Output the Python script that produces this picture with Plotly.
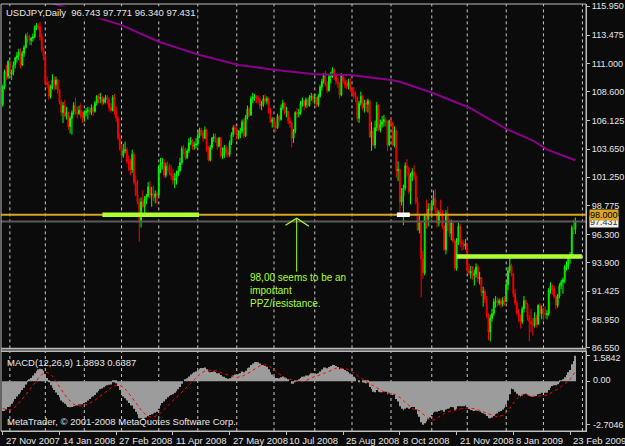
import plotly.graph_objects as go
import pandas as pd

# ---------------- data ----------------
header_text = "USDJPY,Daily  96.743 97.771 96.340 97.431"
macd_header = "MACD(12,26,9) 1.3893 0.6387"
copyright_text = "MetaTrader, \u00a9 2001-2008 MetaQuotes Software Corp."
comment_text = "98,00 seems to be an<br>important<br>PPZ/resistance."

holidays = ["2007-12-25", "2008-01-01", "2008-12-25", "2009-01-01"]
dates = [d for d in pd.bdate_range("2007-11-27", "2009-02-26")
         if d.strftime("%Y-%m-%d") not in holidays]

opens = [
 107.5,109.0,110.3,109.9,111.2,110.1,110.3,110.9,111.5,111.7,
 112.0,110.9,111.9,112.4,113.4,113.2,113.0,113.2,113.3,114.1,
 114.3,114.2,113.3,112.2,111.7,109.4,109.2,108.2,109.0,109.6,
 109.2,109.6,108.7,107.7,106.8,107.4,106.5,106.8,105.6,106.3,
 106.8,107.4,106.8,106.7,107.0,106.5,106.4,106.8,106.9,107.0,
 106.8,107.2,106.9,107.6,108.2,108.0,108.1,107.7,107.9,108.1,
 107.9,107.2,107.0,108.1,106.9,106.3,104.6,103.7,103.1,103.5,
 103.6,102.6,102.5,101.9,103.2,100.8,99.7,99.1,97.4,99.1,
 98.7,99.3,99.6,100.4,99.7,99.8,99.5,99.8,99.7,102.0,
 102.4,102.5,101.4,102.2,102.1,101.6,101.4,101.0,101.1,101.5,
 101.8,102.5,103.7,103.5,102.9,103.5,104.2,104.4,103.9,104.0,
 104.1,104.8,105.3,105.1,104.6,105.3,103.5,102.7,103.8,104.6,
 104.7,104.5,103.9,104.6,103.1,103.2,103.8,103.3,103.2,104.2,
 104.9,105.5,105.4,104.8,105.0,105.2,106.0,104.8,106.4,107.1,
 106.6,108.0,108.1,108.2,108.1,107.9,107.4,107.5,108.0,107.8,
 108.0,106.8,106.0,106.2,105.6,105.5,106.5,106.2,107.2,107.6,
 106.8,106.9,106.1,105.9,104.6,105.2,106.8,106.7,106.8,107.6,
 107.8,107.4,107.9,107.4,108.1,108.2,108.0,108.1,107.5,108.2,
 109.0,109.5,110.0,109.2,108.7,109.9,110.0,110.5,109.9,109.5,
 109.3,108.3,110.0,109.5,109.2,109.1,109.4,108.8,108.5,108.3,
 108.1,106.3,107.6,108.2,107.2,107.6,107.5,107.8,104.7,105.2,
 104.0,105.5,107.4,105.3,105.8,106.0,106.2,106.0,104.0,106.1,
 105.9,104.0,105.2,101.8,101.9,99.1,99.6,100.3,102.2,102.0,
 100.0,101.4,101.7,101.3,99.1,96.7,97.3,94.2,93.0,97.9,
 97.6,98.5,98.4,99.0,99.4,98.4,97.3,98.2,98.1,97.0,
 95.0,98.1,97.1,96.4,97.3,95.7,93.4,95.8,97.0,95.6,
 95.5,95.3,95.5,93.2,93.0,93.1,92.8,92.9,93.5,92.5,
 92.6,91.3,91.4,90.7,89.3,87.9,89.1,89.5,90.5,90.6,
 90.4,90.6,90.3,90.6,90.5,92.0,93.2,93.6,92.9,91.2,
 90.4,89.5,89.2,88.8,89.9,90.6,90.3,89.2,88.8,88.6,
 88.5,89.1,88.6,90.2,89.5,89.9,89.5,89.4,89.5,91.5,
 91.9,91.6,91.0,90.2,91.0,91.9,92.2,92.4,93.5,93.6,
 94.4,94.5,96.9,96.743]
highs = [
 109.2,110.5,110.9,111.3,111.3,110.5,111.2,111.6,112.0,112.3,
 112.3,112.1,112.6,113.6,113.7,113.5,113.3,113.6,114.3,114.5,
 114.5,114.6,113.6,112.4,111.8,109.9,109.5,109.2,110.1,109.9,
 109.9,109.7,108.8,107.9,107.7,107.9,107.3,106.9,106.5,107.0,
 107.7,108.1,107.3,107.4,107.6,106.9,107.0,107.2,107.3,107.3,
 107.5,107.4,107.8,108.3,108.4,108.5,108.2,108.1,108.3,108.3,
 108.1,107.6,108.3,108.4,107.3,106.5,105.0,104.0,104.1,104.3,
 103.8,103.1,102.8,103.6,103.4,101.4,101.0,99.4,99.5,100.1,
 99.6,99.8,100.8,100.9,100.4,100.5,100.1,100.0,102.3,102.9,
 102.9,102.8,102.5,102.6,102.4,102.3,101.9,101.6,101.8,102.2,
 102.9,103.9,104.0,103.8,103.7,104.6,104.7,104.5,104.3,104.6,
 105.1,105.5,105.5,105.3,105.6,105.4,103.9,104.0,104.7,105.0,
 105.0,104.6,104.7,104.7,103.8,104.0,104.0,103.6,104.4,105.1,
 105.7,105.8,105.6,105.3,105.5,106.2,106.3,106.6,107.4,107.3,
 108.2,108.5,108.4,108.3,108.3,108.1,107.8,108.3,108.4,108.2,
 108.1,107.2,106.4,106.4,106.0,106.7,106.6,107.5,107.9,107.7,
 107.3,106.9,106.4,106.0,105.4,106.9,107.2,107.1,107.8,108.1,
 107.9,108.1,108.0,108.3,108.5,108.4,108.4,108.1,108.4,109.2,
 109.7,110.2,110.4,109.5,110.1,110.3,110.7,110.6,110.1,109.8,
 109.4,110.2,110.1,109.8,109.6,109.7,109.8,108.9,109.0,108.6,
 108.2,107.8,108.6,108.3,107.9,107.9,108.0,107.9,106.0,105.5,
 106.1,107.7,107.5,106.2,106.5,106.6,106.4,106.1,106.2,106.4,
 106.0,105.6,105.3,102.6,102.0,100.3,100.6,102.5,102.8,102.1,
 101.6,102.0,102.3,101.6,99.5,97.9,97.4,94.9,98.1,99.3,
 99.0,99.0,99.3,100.1,100.2,98.6,98.4,99.3,98.4,97.1,
 98.4,98.7,97.6,97.6,97.5,95.9,96.0,97.3,97.2,95.9,
 95.8,95.9,95.6,93.8,93.6,93.6,93.3,93.8,93.7,93.1,
 92.6,91.8,91.6,91.0,89.5,89.4,89.9,90.8,91.0,90.9,
 90.8,90.8,90.9,91.0,92.2,93.5,94.6,93.8,93.0,91.6,
 90.6,89.9,89.4,90.1,91.0,90.7,90.4,89.4,89.9,89.1,
 89.6,89.4,90.3,90.4,90.2,90.0,90.1,89.8,91.7,92.2,
 92.0,91.9,91.1,91.2,92.1,92.4,92.6,93.7,94.0,94.5,
 94.8,97.1,97.6,97.771]
lows = [
 107.3,108.8,109.6,109.7,109.9,109.6,110.0,110.6,111.1,111.3,
 110.6,110.8,111.6,112.3,112.8,112.6,112.6,112.9,113.2,113.9,
 113.9,113.0,112.0,111.3,109.1,108.9,107.9,108.0,108.8,108.7,
 108.8,108.4,107.5,106.5,105.9,106.4,106.2,105.3,105.0,104.9,
 106.6,106.6,106.3,106.6,106.3,105.9,106.0,106.5,106.2,106.6,
 106.6,106.5,106.8,107.4,107.6,107.6,107.4,107.5,107.6,107.5,
 106.9,106.8,106.9,106.6,106.0,104.4,103.5,102.6,102.9,103.3,
 102.4,101.8,101.4,101.6,100.6,99.6,98.9,95.7,96.9,98.6,
 98.1,98.9,99.5,99.4,98.7,99.2,99.0,98.9,99.6,101.6,
 101.9,101.2,101.2,101.8,101.4,101.0,100.6,100.3,100.6,101.3,
 101.7,102.3,103.2,102.7,102.8,103.3,104.0,103.6,103.6,103.7,
 103.9,104.6,104.8,104.3,104.5,103.4,102.6,102.6,103.6,104.3,
 104.2,103.6,103.8,102.9,102.8,102.9,103.0,102.9,103.0,104.0,
 104.7,104.9,104.4,104.5,104.6,105.0,104.6,104.7,106.2,106.4,
 106.5,107.6,107.8,107.6,107.6,107.1,107.0,107.3,107.6,107.5,
 106.7,105.9,105.5,105.4,105.1,105.4,106.0,106.1,107.0,106.6,
 106.4,105.8,105.5,103.8,104.2,105.0,106.3,106.4,106.6,107.3,
 107.0,107.2,107.2,107.3,107.8,107.6,107.5,107.3,107.3,108.1,
 108.7,109.3,109.1,108.5,108.6,109.3,109.8,109.6,109.2,108.9,
 108.0,108.2,109.3,108.9,108.8,108.8,108.6,108.2,108.0,107.7,
 106.0,105.9,107.4,107.0,106.8,106.9,106.8,104.6,103.5,103.9,
 103.7,105.2,105.2,105.1,105.5,105.6,105.6,103.5,103.9,105.6,
 103.9,103.8,101.2,100.9,97.9,98.8,97.1,100.1,101.3,99.8,
 98.9,100.9,101.0,98.9,96.6,96.4,90.9,92.5,92.8,96.8,
 97.0,97.8,97.7,98.8,98.1,96.9,97.0,97.9,96.8,94.9,
 94.6,96.6,96.1,95.8,95.6,93.2,93.2,95.4,95.2,94.9,
 95.0,95.0,93.0,92.8,92.5,92.4,91.9,92.6,92.2,92.0,
 91.0,90.1,90.4,89.1,87.2,87.1,88.8,89.3,90.0,90.1,
 90.2,90.0,90.1,90.2,90.5,91.5,93.0,92.7,90.9,90.2,
 89.4,88.8,88.2,88.6,89.6,89.9,88.9,87.1,87.9,87.6,
 88.3,88.3,88.5,89.3,89.0,88.9,89.1,89.0,89.3,91.2,
 91.1,90.8,89.9,90.0,90.8,91.6,91.2,92.1,93.2,93.3,
 93.8,94.3,96.3,96.340]
closes = [
 109.0,110.3,109.9,111.2,110.1,110.3,110.9,111.5,111.7,112.0,
 110.9,111.9,112.4,113.4,113.2,113.0,113.2,113.3,114.1,114.3,
 114.2,113.3,112.2,111.7,109.4,109.2,108.2,109.0,109.6,109.2,
 109.6,108.7,107.7,106.8,107.4,106.5,106.8,105.6,106.3,106.8,
 107.4,106.8,106.7,107.0,106.5,106.4,106.8,106.9,107.0,106.8,
 107.2,106.9,107.6,108.2,108.0,108.1,107.7,107.9,108.1,107.9,
 107.2,107.0,108.1,106.9,106.3,104.6,103.7,103.1,103.5,103.6,
 102.6,102.5,101.9,103.2,100.8,99.7,99.1,97.4,99.1,98.7,
 99.3,99.6,100.4,99.7,99.8,99.5,99.8,99.7,102.0,102.4,
 102.5,101.4,102.2,102.1,101.6,101.4,101.0,101.1,101.5,101.8,
 102.5,103.7,103.5,102.9,103.5,104.2,104.4,103.9,104.0,104.1,
 104.8,105.3,105.1,104.6,105.3,103.5,102.7,103.8,104.6,104.7,
 104.5,103.9,104.6,103.1,103.2,103.8,103.3,103.2,104.2,104.9,
 105.5,105.4,104.8,105.0,105.2,106.0,104.8,106.4,107.1,106.6,
 108.0,108.1,108.2,108.1,107.9,107.4,107.5,108.0,107.8,108.0,
 106.8,106.0,106.2,105.6,105.5,106.5,106.2,107.2,107.6,106.8,
 106.9,106.1,105.9,104.6,105.2,106.8,106.7,106.8,107.6,107.8,
 107.4,107.9,107.4,108.1,108.2,108.0,108.1,107.5,108.2,109.0,
 109.5,110.0,109.2,108.7,109.9,110.0,110.5,109.9,109.5,109.3,
 108.3,110.0,109.5,109.2,109.1,109.4,108.8,108.5,108.3,108.1,
 106.3,107.6,108.2,107.2,107.6,107.5,107.8,104.7,105.2,104.0,
 105.5,107.4,105.3,105.8,106.0,106.2,106.0,104.0,106.1,105.9,
 104.0,105.2,101.8,101.9,99.1,99.6,100.3,102.2,102.0,100.0,
 101.4,101.7,101.3,99.1,96.7,97.3,94.2,93.0,97.9,97.6,
 98.5,98.4,99.0,99.4,98.4,97.3,98.2,98.1,97.0,95.0,
 98.1,97.1,96.4,97.3,95.7,93.4,95.8,97.0,95.6,95.5,
 95.3,95.5,93.2,93.0,93.1,92.8,92.9,93.5,92.5,92.6,
 91.3,91.4,90.7,89.3,87.9,89.1,89.5,90.5,90.6,90.4,
 90.6,90.3,90.6,90.5,92.0,93.2,93.6,92.9,91.2,90.4,
 89.5,89.2,88.8,89.9,90.6,90.3,89.2,88.8,88.6,88.5,
 89.1,88.6,90.2,89.5,89.9,89.5,89.4,89.5,91.5,91.9,
 91.6,91.0,90.2,91.0,91.9,92.2,92.4,93.5,93.6,94.4,
 94.5,96.9,96.743,97.431]

# moving average (purple) read at bar positions
ma_idx = [0, 28, 49, 67, 88, 111, 133, 154, 176, 196, 219, 224, 228,
          243, 263, 275, 285, 300, 307, 323]
ma_val = [117.6, 116.2, 115.18, 114.33, 112.9, 111.75, 110.89, 110.47,
          110.09, 110.04, 109.61, 109.45, 109.23, 108.46, 107.24, 106.18,
          105.32, 104.32, 103.61, 102.70]

macd = [
 -1.85,-1.85,-1.75,-1.6,-1.5,-1.4,-1.25,-1.1,-0.95,-0.8,
 -0.7,-0.55,-0.4,-0.2,-0.05,0.1,0.2,0.35,0.5,0.62,
 0.72,0.78,0.75,0.65,0.45,0.2,-0.05,-0.25,-0.4,-0.55,
 -0.7,-0.85,-1.0,-1.2,-1.3,-1.4,-1.5,-1.6,-1.62,-1.6,
 -1.55,-1.5,-1.5,-1.45,-1.45,-1.42,-1.35,-1.3,-1.2,-1.1,
 -1.0,-0.95,-0.85,-0.7,-0.6,-0.5,-0.45,-0.38,-0.3,-0.25,
 -0.22,-0.2,-0.05,-0.05,-0.12,-0.3,-0.55,-0.8,-0.95,-1.05,
 -1.2,-1.35,-1.5,-1.5,-1.7,-1.9,-2.05,-2.3,-2.3,-2.35,
 -2.3,-2.25,-2.15,-2.1,-2.05,-2.0,-1.95,-1.9,-1.7,-1.5,
 -1.35,-1.25,-1.12,-1.0,-0.92,-0.85,-0.8,-0.72,-0.62,-0.5,
 -0.35,-0.15,0.0,0.08,0.18,0.3,0.42,0.48,0.55,0.6,
 0.68,0.78,0.82,0.82,0.85,0.75,0.6,0.55,0.58,0.6,
 0.58,0.5,0.5,0.38,0.3,0.28,0.2,0.15,0.18,0.25,
 0.35,0.42,0.42,0.45,0.5,0.6,0.55,0.65,0.8,0.85,
 1.0,1.1,1.18,1.2,1.18,1.1,1.0,1.0,0.95,0.9,
 0.75,0.55,0.42,0.3,0.2,0.2,0.18,0.25,0.3,0.25,
 0.2,0.1,0.0,-0.15,-0.15,-0.02,0.05,0.1,0.2,0.28,
 0.3,0.35,0.35,0.42,0.5,0.5,0.5,0.45,0.5,0.6,
 0.72,0.85,0.85,0.8,0.88,0.95,1.02,1.0,0.95,0.88,
 0.75,0.82,0.78,0.7,0.62,0.58,0.48,0.38,0.28,0.18,
 0.0,-0.02,0.0,-0.08,-0.1,-0.12,-0.1,-0.35,-0.48,-0.65,
 -0.68,-0.55,-0.65,-0.68,-0.68,-0.65,-0.65,-0.8,-0.75,-0.75,
 -0.85,-0.85,-1.1,-1.25,-1.55,-1.7,-1.8,-1.7,-1.65,-1.7,
 -1.65,-1.6,-1.6,-1.75,-2.05,-2.2,-2.55,-2.7,-2.6,-2.5,
 -2.35,-2.25,-2.1,-1.95,-1.9,-1.9,-1.85,-1.8,-1.8,-1.9,
 -1.75,-1.7,-1.68,-1.6,-1.62,-1.8,-1.7,-1.55,-1.55,-1.55,
 -1.55,-1.5,-1.62,-1.72,-1.78,-1.82,-1.85,-1.82,-1.85,-1.87,
 -1.95,-1.98,-2.05,-2.15,-2.3,-2.3,-2.25,-2.15,-2.05,-2.0,
 -1.9,-1.85,-1.75,-1.65,-1.45,-1.2,-0.8,-0.45,-0.5,-0.65,
 -0.78,-0.88,-0.95,-0.9,-0.8,-0.78,-0.85,-0.92,-0.95,-0.98,
 -0.92,-0.92,-0.8,-0.78,-0.72,-0.72,-0.72,-0.72,-0.55,-0.4,
 -0.3,-0.25,-0.25,-0.18,-0.08,0.02,0.1,0.25,0.38,0.55,
 0.7,1.05,1.25,1.58]
signal = [
 -1.7,-1.72,-1.75,-1.77,-1.78,-1.75,-1.7,-1.6,-1.47,-1.36,
 -1.23,-1.1,-0.97,-0.83,-0.68,-0.53,-0.39,-0.25,-0.11,0.04,
 0.18,0.31,0.42,0.5,0.54,0.54,0.5,0.42,0.31,0.17,
 0.01,-0.17,-0.35,-0.53,-0.7,-0.85,-0.99,-1.12,-1.24,-1.34,
 -1.42,-1.48,-1.51,-1.53,-1.54,-1.53,-1.5,-1.46,-1.42,-1.37,
 -1.31,-1.25,-1.18,-1.1,-1.01,-0.92,-0.83,-0.74,-0.65,-0.57,
 -0.49,-0.42,-0.35,-0.29,-0.25,-0.23,-0.25,-0.31,-0.39,-0.48,
 -0.59,-0.73,-0.89,-1.04,-1.2,-1.35,-1.49,-1.64,-1.78,-1.91,
 -2.02,-2.1,-2.17,-2.21,-2.23,-2.22,-2.18,-2.14,-2.07,-1.98,
 -1.88,-1.78,-1.67,-1.55,-1.43,-1.31,-1.19,-1.08,-0.98,-0.89,
 -0.79,-0.68,-0.57,-0.46,-0.35,-0.23,-0.1,0.02,0.14,0.25,
 0.34,0.43,0.51,0.58,0.64,0.68,0.69,0.69,0.69,0.68,
 0.66,0.62,0.58,0.53,0.48,0.44,0.4,0.35,0.3,0.26,
 0.24,0.23,0.23,0.25,0.27,0.31,0.36,0.41,0.47,0.53,
 0.59,0.67,0.75,0.83,0.89,0.95,0.99,1.01,1.02,1.01,
 0.97,0.9,0.81,0.71,0.61,0.52,0.43,0.35,0.28,0.22,
 0.18,0.14,0.11,0.07,0.03,0.01,-0.01,-0.03,-0.04,-0.03,
 -0.01,0.03,0.09,0.15,0.21,0.26,0.3,0.33,0.35,0.38,
 0.42,0.48,0.53,0.56,0.6,0.65,0.71,0.77,0.81,0.83,
 0.82,0.82,0.82,0.8,0.76,0.71,0.65,0.59,0.52,0.46,
 0.37,0.28,0.2,0.12,0.04,-0.03,-0.08,-0.15,-0.22,-0.29,
 -0.36,-0.42,-0.48,-0.54,-0.6,-0.66,-0.69,-0.73,-0.74,-0.75,
 -0.78,-0.8,-0.85,-0.91,-1.01,-1.13,-1.24,-1.35,-1.45,-1.54,
 -1.63,-1.69,-1.73,-1.75,-1.79,-1.83,-1.92,-2.04,-2.14,-2.23,
 -2.31,-2.38,-2.42,-2.41,-2.38,-2.31,-2.22,-2.13,-2.05,-2.0,
 -1.94,-1.9,-1.87,-1.84,-1.81,-1.8,-1.79,-1.76,-1.72,-1.7,
 -1.68,-1.66,-1.66,-1.67,-1.67,-1.68,-1.71,-1.74,-1.77,-1.81,
 -1.86,-1.9,-1.94,-1.98,-2.03,-2.08,-2.13,-2.16,-2.18,-2.19,
 -2.18,-2.16,-2.12,-2.05,-1.96,-1.84,-1.69,-1.51,-1.34,-1.2,
 -1.08,-0.98,-0.9,-0.84,-0.8,-0.8,-0.84,-0.89,-0.92,-0.94,
 -0.94,-0.94,-0.93,-0.93,-0.92,-0.91,-0.89,-0.86,-0.81,-0.75,
 -0.68,-0.62,-0.56,-0.5,-0.43,-0.35,-0.26,-0.17,-0.08,0.01,
 0.12,0.26,0.42,0.6]

price_ticks = [115.950, 113.475, 111.000, 108.600, 106.125, 103.650,
               101.250, 98.775, 96.300, 93.900, 91.425, 88.950, 86.550]
macd_ticks = [1.5842, 0.0, -2.7046]
macd_tick_text = ["1.5842", "0.00", "-2.7046"]
date_label_idx = [0, 32, 64, 96, 128, 160, 192, 224, 256, 288, 320]
date_labels = ["27 Nov 2007", "14 Jan 2008", "27 Feb 2008", "11 Apr 2008",
               "27 May 2008", "10 Jul 2008", "25 Aug 2008", "8 Oct 2008",
               "21 Nov 2008", "8 Jan 2009", "23 Feb 2009"]

level_line = 98.000      # orange horizontal level
bid_price = 97.431       # grey bid line
# user drawings: (start bar, end bar, price, colour)
drawn_segments = [(56.2, 110.7, 98.0, "#ADFF2F"),
                  (222.3, 229.6, 98.0, "#FFFFFF"),
                  (256.0, 326.7, 94.4, "#ADFF2F")]
arrow_bar, arrow_base, arrow_tip = 165.8, 93.1, 97.7

# ---------------- figure ----------------
BG = "#0b0b0b"
FONT = "Liberation Sans"
TXT = "#E6E6E6"
n = len(closes)
x = list(range(n))

fig = go.Figure()

fig.add_trace(go.Candlestick(
    x=x, open=opens, high=highs, low=lows, close=closes,
    increasing=dict(line=dict(color="#00FF00", width=1), fillcolor="#007A00"),
    decreasing=dict(line=dict(color="#FF0000", width=1), fillcolor="#950000"),
    whiskerwidth=0, xaxis="x", yaxis="y", hoverinfo="skip"))

fig.add_trace(go.Scatter(x=ma_idx, y=ma_val, mode="lines",
                         line=dict(color="#8B008B", width=2),
                         xaxis="x", yaxis="y", hoverinfo="skip"))

fig.add_trace(go.Bar(x=x, y=macd, width=0.42,
                     marker=dict(color="#9C9C9C", line=dict(width=0)),
                     xaxis="x", yaxis="y2", hoverinfo="skip"))
fig.add_trace(go.Scatter(x=x, y=signal, mode="lines",
                         line=dict(color="#FF0000", width=1, dash="dot"),
                         xaxis="x", yaxis="y2", hoverinfo="skip"))

H_PLOT = 446 - 2 - 15
main_bottom = (431 - 348) / H_PLOT
macd_top = (431 - 351) / H_PLOT

shapes = []
# monthly vertical grid
grid_idx = [i for i in range(1, len(dates)) if dates[i].month != dates[i - 1].month] + [327]
for g in grid_idx:
    for (y0, y1) in [(main_bottom, 1), (0, macd_top)]:
        shapes.append(dict(type="line", xref="x", yref="paper", x0=g, x1=g,
                           y0=y0, y1=y1, layer="below",
                           line=dict(color="#C8C8C8", width=1, dash="3px,3px")))
# horizontal lines
shapes.append(dict(type="line", xref="paper", yref="y", x0=0, x1=1,
                   y0=bid_price, y1=bid_price,
                   line=dict(color="#5A5A5A", width=2)))
shapes.append(dict(type="line", xref="paper", yref="y", x0=0, x1=1,
                   y0=level_line, y1=level_line,
                   line=dict(color="#DAA520", width=2)))
for (a, b, p, c) in drawn_segments:
    shapes.append(dict(type="line", xref="x", yref="y", x0=a, x1=b, y0=p, y1=p,
                       line=dict(color=c, width=4.5)))
# arrow
shapes.append(dict(type="line", xref="x", yref="y", x0=arrow_bar, x1=arrow_bar,
                   y0=arrow_base, y1=arrow_tip, line=dict(color="#ADFF2F", width=1)))
shapes.append(dict(type="path", xref="x", yref="y",
                   path=f"M {arrow_bar-6.3},{arrow_tip-0.6} L {arrow_bar},{arrow_tip} L {arrow_bar+6.9},{arrow_tip-0.68}",
                   line=dict(color="#ADFF2F", width=1.2)))
# frames
shapes.append(dict(type="rect", xref="paper", yref="paper", x0=0, x1=1,
                   y0=main_bottom, y1=1, line=dict(color="#BDBDBD", width=1)))
shapes.append(dict(type="rect", xref="paper", yref="paper", x0=0, x1=1,
                   y0=0, y1=macd_top, line=dict(color="#BDBDBD", width=1)))
shapes.append(dict(type="rect", xref="paper", yref="paper", x0=0, x1=1,
                   y0=macd_top, y1=main_bottom, fillcolor="#6A6A6A",
                   line=dict(color="#C0C0C0", width=1)))

ann = []
ann.append(dict(xref="paper", yref="paper", x=0, y=1, xanchor="left", yanchor="top",
                xshift=4, yshift=-2, text=header_text, showarrow=False,
                bgcolor=BG, borderpad=0,
                font=dict(family=FONT, size=9.5, color=TXT)))
ann.append(dict(xref="paper", yref="paper", x=0, y=macd_top, xanchor="left",
                yanchor="top", xshift=4, yshift=-4, text=macd_header, showarrow=False,
                font=dict(family=FONT, size=9.5, color=TXT)))
ann.append(dict(xref="paper", yref="paper", x=0, y=0, xanchor="left",
                yanchor="bottom", xshift=4, yshift=2, text=copyright_text,
                showarrow=False, font=dict(family=FONT, size=9.5, color=TXT)))
ann.append(dict(xref="x", yref="y", x=138.2, y=93.25, xanchor="left", yanchor="top",
                text=comment_text, showarrow=False, align="left",
                font=dict(family=FONT, size=10, color="#ADFF2F")))
for i, t in zip(date_label_idx, date_labels):
    ann.append(dict(xref="x", yref="paper", x=i, y=0, xanchor="left", yanchor="top",
                    xshift=1, yshift=-1.5, text=t, showarrow=False,
                    font=dict(family=FONT, size=9.5, color=TXT)))
# MACD scale labels, placed where the reference prints them
for v, t, ys in zip(macd_ticks, macd_tick_text, [-2.5, 1.5, 0.0]):
    ann.append(dict(xref="paper", yref="y2", x=1, y=v, xanchor="left",
                    yanchor="middle", xshift=5, yshift=ys, text=t, showarrow=False,
                    font=dict(family=FONT, size=9, color=TXT)))
ann.append(dict(xref="paper", yref="y", x=1, y=bid_price, xanchor="left",
                yanchor="middle", xshift=3, yshift=-1, text=f"{bid_price:.3f}",
                showarrow=False, bgcolor="#F0F0F0", borderpad=0,
                font=dict(family=FONT, size=9, color="#303030")))
ann.append(dict(xref="paper", yref="y", x=1, y=level_line, xanchor="left",
                yanchor="middle", xshift=3, text=f"{level_line:.3f}",
                showarrow=False, bgcolor="#DAA520", borderpad=0,
                font=dict(family=FONT, size=9, color="#000000")))

fig.update_layout(
    width=625, height=446,
    margin=dict(l=1, r=36, t=2, b=15),
    paper_bgcolor=BG, plot_bgcolor=BG,
    showlegend=False,
    xaxis=dict(domain=[0, 1], range=[-1, 329], anchor="y2",
               rangeslider=dict(visible=False),
               tickvals=date_label_idx, ticks="outside", ticklen=3,
               tickcolor="#C0C0C0", showticklabels=False,
               showgrid=False, zeroline=False, showline=True,
               linecolor="#C0C0C0", linewidth=1),
    yaxis=dict(domain=[main_bottom, 1], range=[86.498, 116.147], side="right",
               tickvals=price_ticks, ticktext=[f"{v:.3f}" for v in price_ticks],
               ticks="outside", ticklen=3, tickcolor="#C0C0C0",
               ticklabeloverflow="allow",
               tickfont=dict(family=FONT, size=9, color=TXT),
               showgrid=False, zeroline=False, showline=True,
               linecolor="#C0C0C0", linewidth=1, anchor="x"),
    yaxis2=dict(domain=[0, macd_top], range=[-3.086, 1.852], side="right",
                tickvals=macd_ticks, ticks="outside", ticklen=3,
                tickcolor="#C0C0C0", showticklabels=False,
                showgrid=False, zeroline=False, showline=True,
                linecolor="#C0C0C0", linewidth=1, anchor="x"),
    shapes=shapes, annotations=ann,
)

fig.write_html("out.html")
